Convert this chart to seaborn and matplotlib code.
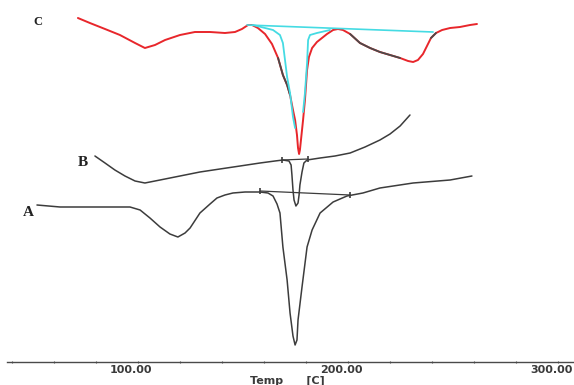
import matplotlib
matplotlib.use("Agg")
import matplotlib.pyplot as plt
import matplotlib.transforms as mtransforms
import numpy as np
import pandas as pd
import seaborn as sns

# ---------------------------------------------------------------------------
# DSC traces (temperature in C, heat flow in arbitrary
# units, each trace already shifted on the display stack)
# ---------------------------------------------------------------------------
c_temp = [71.4, 77.1, 84.3, 91.4, 98.6, 103.3, 108.1, 112.9, 120.0, 127.1,
          134.3, 141.4, 146.2, 149.5, 152.4, 154.3, 157.1, 160.5, 163.8, 166.7,
          169.0, 171.0, 172.4, 173.8, 174.8, 175.7, 176.2, 176.7, 177.1, 178.1,
          178.6, 179.5, 180.0, 180.5, 181.4, 182.9, 185.2, 187.6, 190.0, 192.9,
          195.2, 197.6, 201.0, 205.7, 210.5, 215.2, 220.0, 224.8, 228.6, 231.0,
          233.3, 235.7, 237.6, 239.5, 241.9, 244.8, 248.6, 253.3, 258.1, 261.4]
c_heat = [344, 339, 333, 327, 319, 314, 317, 322, 327, 330,
          330, 329, 330, 333, 337, 337, 334, 328, 318, 304,
          287, 277, 267, 252, 242, 227, 214, 208, 212, 232,
          242, 262, 277, 292, 305, 314, 320, 324, 328, 332,
          333, 332, 328, 319, 314, 310, 307, 304, 301, 300,
          302, 308, 316, 324, 329, 332, 334, 335, 337, 338]

# fitted peak of trace C (two legs, bottom hidden under the red trace)
c_fit_left_temp = [154.8, 164.3, 167.6, 169.0, 171.0, 172.4, 173.8, 174.8]
c_fit_left_heat = [337, 332, 327, 319, 285, 269, 245, 234]
c_fit_right_temp = [178.6, 179.5, 180.5, 181.0, 181.9, 185.2, 191.4]
c_fit_right_heat = [250, 269, 299, 322, 327, 329, 332]
c_base_temp = [151.9, 240.5]
c_base_heat = [337, 330]

b_temp = [79.5, 84.3, 89.0, 93.8, 98.6, 103.3, 110.5, 120.0, 129.5, 139.0,
          148.6, 158.1, 165.2, 169.0, 171.9, 172.9, 173.3, 173.8, 174.3, 175.2,
          176.2, 176.7, 177.1, 178.1, 179.0, 180.5, 186.7, 193.8, 201.0, 208.1,
          215.2, 220.0, 224.8, 229.5]
b_heat = [206, 199, 192, 186, 181, 179, 182, 186, 190, 193,
          196, 199, 201, 202, 201, 197, 187, 172, 162, 156,
          159, 167, 177, 190, 199, 202, 204, 206, 209, 215,
          222, 228, 236, 247]
b_base_temp = [168.6, 181.0]
b_base_heat = [202, 203]

a_temp = [51.9, 62.9, 81.9, 96.2, 101.0, 105.7, 110.5, 115.2, 119.0, 122.4,
          124.8, 129.5, 134.3, 137.6, 141.4, 145.2, 151.0, 158.1, 161.9, 164.3,
          166.2, 167.6, 169.0, 171.0, 172.4, 173.8, 174.8, 175.7, 176.2, 178.1,
          180.5, 182.9, 186.7, 192.9, 199.5, 207.1, 215.2, 231.0, 248.6, 259.0]
a_heat = [157, 155, 155, 155, 152, 144, 135, 128, 125, 129,
          134, 149, 158, 164, 167, 169, 170, 170, 169, 166,
          158, 149, 115, 82, 49, 26, 17, 22, 42, 75,
          115, 132, 149, 160, 166, 169, 174, 179, 182, 186]
a_base_temp = [158.1, 201.0]
a_base_heat = [171, 167]

trace_names = ["A", "B", "C"]
label_temp = [47.6, 73.8, 52.4]
label_heat = [150, 199, 340]

tick_values = [100, 200, 300]
tick_labels = ["100.00", "200.00", "300.00"]

RED = "#e8262b"
CYAN = "#45dbe3"
GRAY = "#3c3c3c"

sns.set_theme(style="white")

fig = plt.figure(figsize=(5.74, 3.85), dpi=100)
ax = fig.add_axes([0, 23 / 385, 1, 362 / 385])

df_a = pd.DataFrame({"Temp": a_temp, "Heat": a_heat})
df_b = pd.DataFrame({"Temp": b_temp, "Heat": b_heat})
df_c = pd.DataFrame({"Temp": c_temp, "Heat": c_heat})

kw = dict(x="Temp", y="Heat", sort=False, estimator=None, ax=ax, legend=False)

# trace A with its baseline
sns.lineplot(data=df_a, color=GRAY, lw=1.1, **kw)
sns.lineplot(data=pd.DataFrame({"Temp": a_base_temp, "Heat": a_base_heat}),
             color=GRAY, lw=0.9, **kw)

# trace B with its baseline
sns.lineplot(data=df_b, color=GRAY, lw=1.1, **kw)
sns.lineplot(data=pd.DataFrame({"Temp": b_base_temp, "Heat": b_base_heat}),
             color=GRAY, lw=0.9, **kw)

# trace C, red with darker stretches
sns.lineplot(data=df_c, color=RED, lw=1.4, **kw)
dark = df_c.copy()
mask = ((dark.Temp >= 166) & (dark.Temp <= 172.5)) | \
       ((dark.Temp >= 201) & (dark.Temp <= 226)) | \
       ((dark.Temp >= 239) & (dark.Temp <= 242))
dark.loc[~mask, "Heat"] = np.nan
ax.plot(dark.Temp, dark.Heat, color="#4a4a4a", lw=1.3)

# fitted peak + baseline in cyan
sns.lineplot(data=pd.DataFrame({"Temp": c_base_temp, "Heat": c_base_heat}),
             color=CYAN, lw=1.2, **kw)
sns.lineplot(data=pd.DataFrame({"Temp": c_fit_left_temp, "Heat": c_fit_left_heat}),
             color=CYAN, lw=1.3, **kw)
sns.lineplot(data=pd.DataFrame({"Temp": c_fit_right_temp, "Heat": c_fit_right_heat}),
             color=CYAN, lw=1.3, **kw)

# small integration markers at baseline ends
for bt, bh in [(a_base_temp, a_base_heat), (b_base_temp, b_base_heat)]:
    ax.plot(bt, bh, ls="none", marker="|", ms=5, mew=1.2, color=GRAY)

# trace letters
for name, t, h in zip(trace_names, label_temp, label_heat):
    ax.text(t, h, name, family="Liberation Serif", weight="bold",
            fontsize=9 if name == "C" else 11, color="#222222",
            ha="center", va="center")

ax.set_xlim(34.3, 307.6)
ax.set_ylim(0, 362)
ax.set_yticks([])
ax.set_ylabel("")
for s in ["left", "top", "right"]:
    ax.spines[s].set_visible(False)
ax.spines["bottom"].set_color("#4a4a4a")
ax.spines["bottom"].set_linewidth(1.0)
ax.spines["bottom"].set_bounds(37.6, 307.6)

ax.set_xticks(tick_values)
ax.set_xticklabels(tick_labels, fontsize=8, fontweight="bold", color="#3a3a3a")
ax.set_xticks(np.arange(40, 301, 20), minor=True)
ax.tick_params(axis="x", which="both", direction="inout", length=2,
               width=0.8, color="#555555", pad=1.5, bottom=True)
shift = mtransforms.ScaledTranslation(-7 / 100, 0, fig.dpi_scale_trans)
for lab in ax.get_xticklabels():
    lab.set_transform(lab.get_transform() + shift)

ax.set_xlabel("Temp      [C]", fontsize=8, fontweight="bold", color="#3a3a3a",
              labelpad=0)
ax.set_facecolor("white")
ax.grid(False)

fig.savefig("out.png", dpi=100, facecolor="white")
